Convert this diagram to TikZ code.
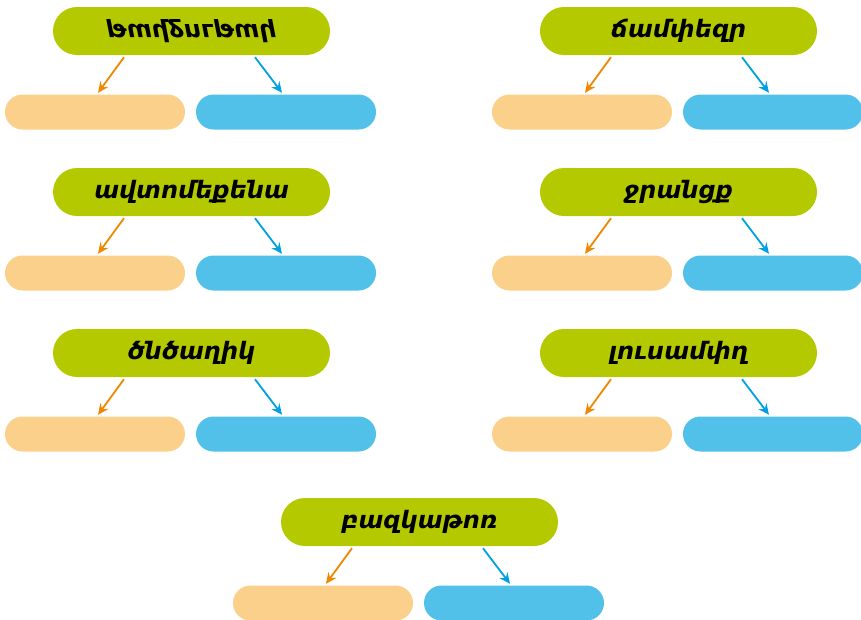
\documentclass[tikz,border=0pt]{standalone}
\usepackage{fontspec}
\setmainfont{DejaVu Sans}
\usetikzlibrary{arrows.meta}
\definecolor{titlegreen}{RGB}{181,201,0}
\definecolor{partorange}{RGB}{251,208,139}
\definecolor{partblue}{RGB}{82,193,233}
\definecolor{arroworange}{RGB}{240,135,0}
\definecolor{arrowblue}{RGB}{0,160,227}
\newcommand\wordgroup[4]{%
  \begin{scope}[shift={(#1,#2)}]
    \node[titlepill] (#3t) at (191.5,31) {#4};
    \node[orangepill] (#3o) at (95,112) {};
    \node[bluepill] (#3b) at (286,112) {};
    \draw[orangearrow] ([xshift=-67.5pt,yshift=-2pt]#3t.south) -- ([xshift=3pt,yshift=1.5pt]#3o.north);
    \draw[bluearrow] ([xshift=63.5pt,yshift=-2pt]#3t.south) -- ([xshift=-4pt,yshift=1.5pt]#3b.north);
  \end{scope}}
\begin{document}
\begin{tikzpicture}[x=1pt,y=-1pt,
  titlepill/.style={fill=titlegreen, rounded corners=24pt, minimum width=277pt, minimum height=48pt, inner sep=0pt,
    font=\fontsize{24}{24}\selectfont\bfseries\itshape},
  orangepill/.style={fill=partorange, rounded corners=17.5pt, minimum width=180pt, minimum height=35pt, inner sep=0pt},
  bluepill/.style={fill=partblue, rounded corners=17.5pt, minimum width=180pt, minimum height=35pt, inner sep=0pt},
  orangearrow/.style={draw=arroworange, line width=1.8pt, -{Stealth[length=11pt,width=10pt,inset=4pt]}},
  bluearrow/.style={draw=arrowblue, line width=1.8pt, -{Stealth[length=11pt,width=10pt,inset=4pt]}}]
\useasboundingbox (0,0) rectangle (861,619);
\clip (0,0) rectangle (861,619);
\wordgroup{0}{0}{a}{\scalebox{1}[-1]{թավջութակ}}
\wordgroup{487}{0}{b}{ճամփեզր}
\wordgroup{0}{161}{c}{ավտոմեքենա}
\wordgroup{487}{161}{d}{ջրանցք}
\wordgroup{0}{322}{e}{ծնծաղիկ}
\wordgroup{487}{322}{f}{լուսամփղ}
\wordgroup{228}{491}{g}{բազկաթոռ}
\end{tikzpicture}
\end{document}
